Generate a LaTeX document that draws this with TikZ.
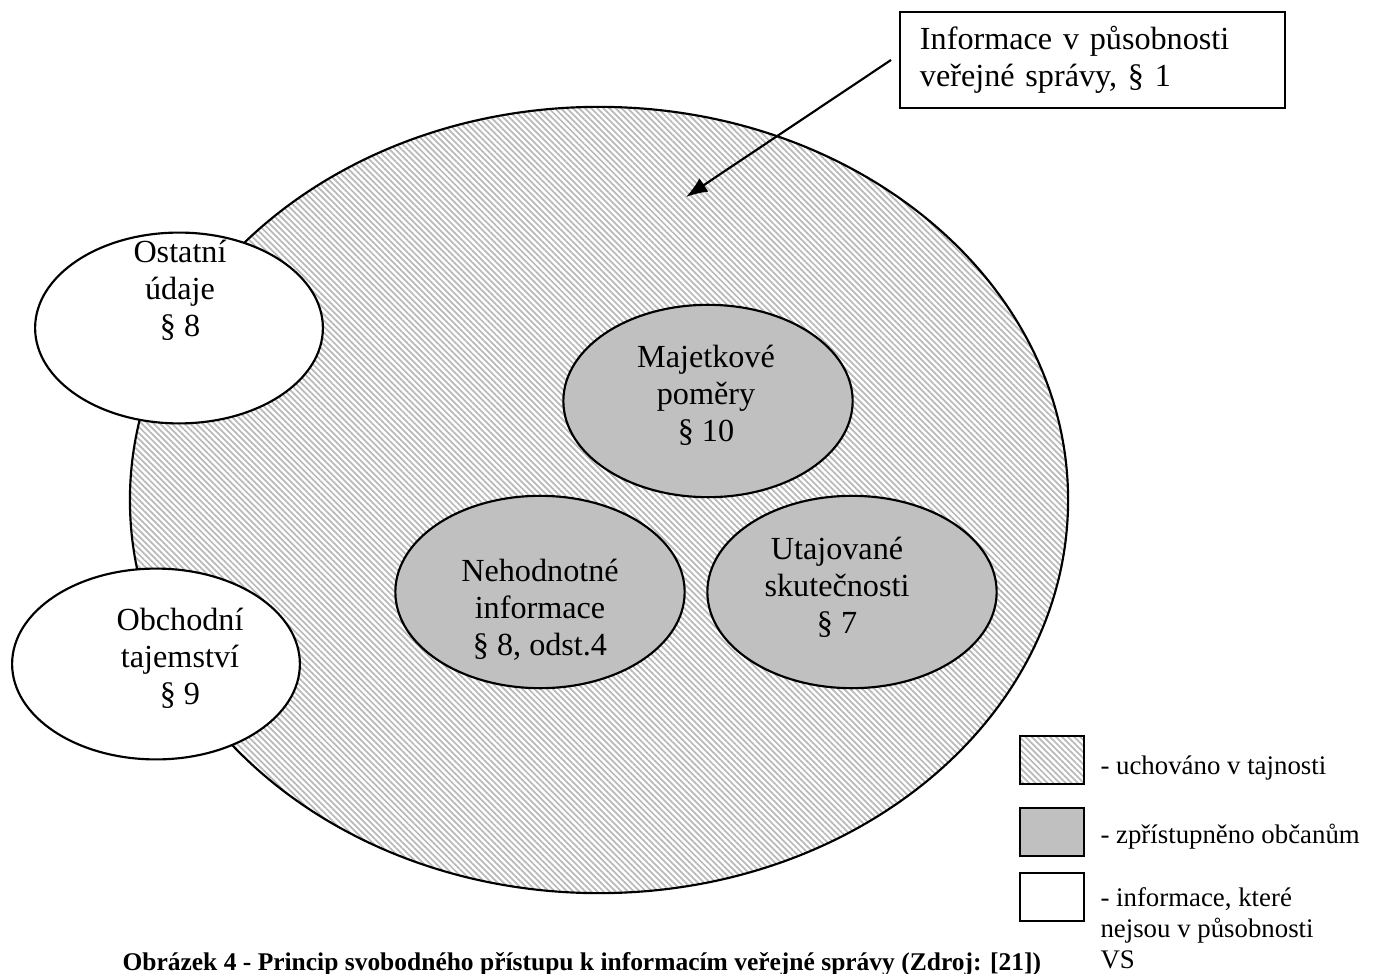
\documentclass[tikz,border=0pt]{standalone}
\usepackage{fontspec}
\setmainfont{Liberation Serif}
\usetikzlibrary{shapes.geometric,patterns.meta,arrows.meta}

\definecolor{keptgray}{RGB}{192,192,192}

\tikzset{
  hatched/.style={draw, line width=0.8pt,
    pattern={Lines[angle=-45,distance=1.6pt,line width=0.65pt]}, pattern color=gray!55},
  whiteell/.style={ellipse, draw, line width=0.8pt, fill=white,
    minimum width=3.77cm, minimum height=2.5cm},
  grayell/.style={ellipse, draw, line width=0.8pt, fill=keptgray,
    minimum width=3.79cm, minimum height=2.52cm},
  lbl/.style={align=center, font=\fontsize{12}{13.8}\selectfont},
  keybox/.style={draw, line width=0.8pt, minimum width=0.84cm, minimum height=0.63cm},
  keytext/.style={anchor=west, align=left, font=\fontsize{10}{11.5}\selectfont},
}

\begin{document}
\begin{tikzpicture}[x=1.31cm, y=-1.31cm]
\useasboundingbox (0,0) rectangle (14,9.74);

% oblast verejne spravy
\node [ellipse, hatched, minimum width=12.29cm, minimum height=10.3cm] (vs) at (5.99,5.00) {};

% mimo pusobnost
\node [whiteell] (ostatni) at (1.79,3.28) {};
\node [whiteell] (obchodni) at (1.56,6.64) {};

\node [lbl] (ostatnit) at (1.80,2.90) {Ostatní\\údaje\\§ 8};
\node [lbl] (obchodnit) at (1.80,6.58) {Obchodní\\tajemství\\§ 9};

% zpristupneno
\node [grayell] (majetek) at (7.08,4.01) {};
\node [grayell] (nehodnotne) at (5.40,5.92) {};
\node [grayell] (utajovane) at (8.52,5.92) {};

\node [lbl] (majetekt) at (7.06,3.95) {Majetkové\\poměry\\§ 10};
\node [lbl] (nehodnotnet) at (5.40,6.10) {Nehodnotné\\informace\\§ 8, odst.4};
\node [lbl] (utajovanet) at (8.37,5.87) {Utajované\\skutečnosti\\§ 7};

% popisek s sipkou
\node [draw, line width=0.8pt, text width=4.52cm, inner xsep=7.4pt, minimum height=1.26cm,
       align=left, font=\fontsize{12}{13.8}\selectfont] (info) at (10.925,0.60)
      {Informace v působnosti\\veřejné správy, § 1};
\coordinate (tip) at (6.86,1.97);
\draw [line width=0.8pt, -{Latex[length=8pt,width=6pt]}] ([xshift=-3pt]info.west) -- (tip);

% legenda
\node [keybox, pattern={Lines[angle=-45,distance=1.6pt,line width=0.65pt]}, pattern color=gray!55] (key1) at (10.52,7.60) {};
\node [keybox, fill=keptgray] (key2) at (10.52,8.32) {};
\node [keybox, fill=white] (key3) at (10.52,8.97) {};

\node [keytext] (key1t) at (10.91,7.68) {- uchováno v tajnosti};
\node [keytext] (key2t) at (10.91,8.37) {- zpřístupněno občanům};
\node [keytext] (key3t) at (10.91,9.28) {- informace, které\\nejsou v působnosti\\VS};

% titulek
\node [anchor=base west, inner sep=0pt, font=\bfseries\fontsize{9.5}{11.5}\selectfont] (caption) at (1.22,9.70)
      {Obrázek 4 - Princip svobodného přístupu k informacím veřejné správy (Zdroj: [21])};

\end{tikzpicture}
\end{document}
